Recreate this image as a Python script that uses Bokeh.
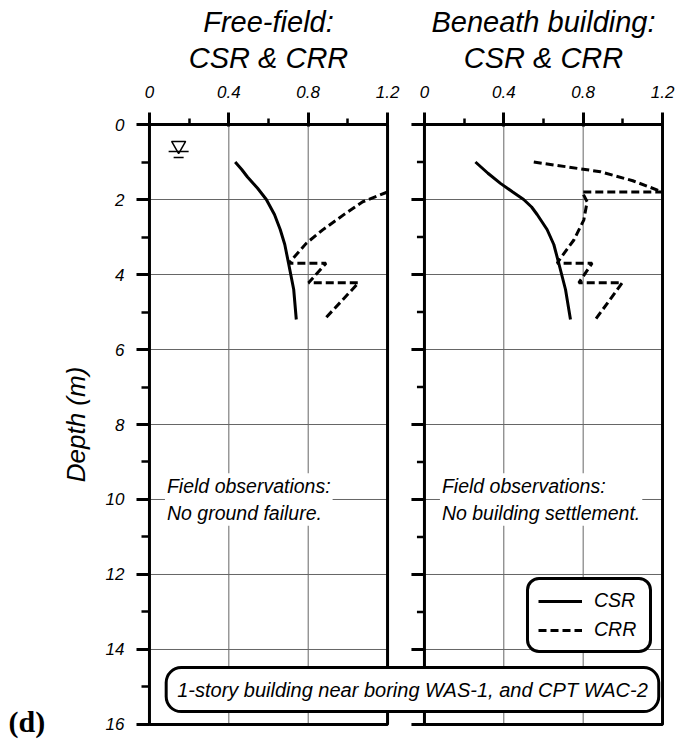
from bokeh.plotting import figure
from bokeh.layouts import row, column
from bokeh.models import Range1d, FixedTicker, Label, Legend, LegendItem
from bokeh.core.properties import value
from bokeh.embed import file_html
from bokeh.resources import INLINE

# ---------------- data ----------------
depth_ticks = [0, 2, 4, 6, 8, 10, 12, 14, 16]
depth_minor = [1, 3, 5, 7, 9, 11, 13, 15]
ratio_ticks = [0, 0.4, 0.8, 1.2]
ratio_minor = [0.2, 0.6, 1.0]
ratio_labels = ["0", "0.4", "0.8", "1.2"]
grid_ratio = [0.4, 0.8]
grid_depth = [2, 4, 6, 8, 10, 12, 14]

# Free-field
ff_csr_depth = [1.0, 1.2, 1.4, 1.7, 2.0, 2.4, 2.8, 3.2, 3.7, 4.4, 5.2]
ff_csr = [0.432, 0.465, 0.494, 0.545, 0.589, 0.630, 0.659, 0.682, 0.701, 0.727, 0.740]
ff_crr_depth = [1.8, 2.06, 2.41, 2.81, 3.17, 3.7, 3.7, 4.22, 4.22, 5.2]
ff_crr = [1.2, 1.075, 0.978, 0.873, 0.79, 0.702, 0.89, 0.802, 1.054, 0.881]

# Beneath building
bb_csr_depth = [1.0, 1.3, 1.57, 1.8, 2.0, 2.2, 2.4, 2.8, 3.2, 3.7, 4.4, 5.2]
bb_csr = [0.257, 0.320, 0.383, 0.445, 0.50, 0.540, 0.568, 0.618, 0.652, 0.677, 0.711, 0.736]
bb_crr_depth = [1.0, 1.26, 1.5, 1.8, 1.8, 2.06, 2.55, 3.08, 3.57, 3.7, 3.7, 4.22, 4.22, 5.2]
bb_crr = [0.551, 0.887, 1.05, 1.2, 0.795, 0.82, 0.803, 0.753, 0.685, 0.669, 0.845, 0.778, 0.997, 0.862]

water_table_depth = 0.72
water_table_x = 0.147

titles_left = ["Free-field:", "CSR & CRR"]
titles_right = ["Beneath building:", "CSR & CRR"]

# ---------------- layout constants ----------------
XMAX = 1.2
DMAX = 16
GAP = 0.186
PADX = 0.02
PADY = 0.1067
R0 = XMAX + GAP
FONT = "Liberation Sans"
LEFT_W = 50
TITLE_H = 72
BL, FW, BR = 95, 521, 13
BT, FH, BB = 48, 608, 14

xr = Range1d(-PADX, R0 + XMAX + PADX)
xr_right = Range1d(-PADX - R0, XMAX + PADX)

p = figure(frame_width=FW, frame_height=FH, x_range=xr,
           y_range=Range1d(DMAX + PADY, -PADY),
           x_axis_location="above", y_axis_location="left",
           output_backend="svg", toolbar_location=None,
           min_border_left=BL, min_border_right=BR,
           min_border_top=BT, min_border_bottom=BB)
p.extra_x_ranges = {"right": xr_right}
p.outline_line_color = None
p.background_fill_color = "white"
p.border_fill_color = "white"
p.xgrid.visible = False
p.ygrid.visible = False

# ---- axes ----
top_ticks = [round(t, 4) for t in ratio_ticks] + [round(t + R0, 4) for t in ratio_ticks]
top_minor = [round(t, 4) for t in ratio_minor] + [round(t + R0, 4) for t in ratio_minor]
top_labels = ratio_labels + ratio_labels
xa = p.xaxis[0]
xa.ticker = FixedTicker(ticks=top_ticks, minor_ticks=top_minor)
xa.major_label_overrides = {t: l for t, l in zip(top_ticks, top_labels)}
xa.major_tick_out = 8
xa.major_tick_in = 6
xa.minor_tick_out = 2
xa.minor_tick_in = 4

ya = p.yaxis[0]
ya.ticker = FixedTicker(ticks=depth_ticks, minor_ticks=depth_minor)
ya.major_tick_out = 9
ya.major_tick_in = 4
ya.minor_tick_out = 4
ya.minor_tick_in = 4
ya.axis_label = "Depth (m)"
ya.axis_label_text_font = FONT
ya.axis_label_text_font_style = "italic"
ya.axis_label_text_font_size = "26px"
ya.axis_label_text_color = "black"
ya.axis_label_standoff = 12

for ax in (xa, ya):
    ax.axis_line_color = None
    ax.major_tick_line_color = "black"
    ax.minor_tick_line_color = "black"
    ax.major_tick_line_width = 3
    ax.minor_tick_line_width = 2.5
    ax.major_label_text_font = FONT
    ax.major_label_text_font_style = "italic"
    ax.major_label_text_font_size = "17px"
    ax.major_label_text_color = "black"
xa.major_label_standoff = 15
ya.major_label_standoff = 12

# ---- panels: grid + borders ----
TICK_MAJ = 13 / 198.4
TICK_MIN = 7.5 / 198.4
for rng in ("default", "right"):
    p.segment(x0=grid_ratio, y0=[0] * len(grid_ratio), x1=grid_ratio, y1=[DMAX] * len(grid_ratio),
              line_color="#666666", line_width=1, x_range_name=rng)
    p.segment(x0=[0] * len(grid_depth), y0=grid_depth, x1=[XMAX] * len(grid_depth), y1=grid_depth,
              line_color="#666666", line_width=1, x_range_name=rng)
    p.quad(left=[0], right=[XMAX], top=[0], bottom=[DMAX], fill_color=None,
           line_color="black", line_width=3, x_range_name=rng)

# left-side ticks of the right panel
p.segment(x0=[-TICK_MAJ] * len(depth_ticks), y0=depth_ticks, x1=[0] * len(depth_ticks), y1=depth_ticks,
          line_color="black", line_width=3, x_range_name="right")
p.segment(x0=[-TICK_MIN] * len(depth_minor), y0=depth_minor, x1=[0] * len(depth_minor), y1=depth_minor,
          line_color="black", line_width=2.5, x_range_name="right")

# ---- data curves ----
csr_l = p.line(ff_csr, ff_csr_depth, line_color="black", line_width=3)
crr_l = p.line(ff_crr, ff_crr_depth, line_color="black", line_width=3, line_dash="8 4")
p.line(bb_csr, bb_csr_depth, line_color="black", line_width=3, x_range_name="right")
p.line(bb_crr, bb_crr_depth, line_color="black", line_width=3, line_dash="8 4", x_range_name="right")

# water table symbol
p.scatter([water_table_x], [water_table_depth - 0.16], marker="inverted_triangle", size=14,
          fill_color="white", line_color="black", line_width=1.5)
p.scatter([water_table_x], [water_table_depth], marker="dash", size=20, line_color="black", line_width=1.5)
p.scatter([water_table_x], [water_table_depth + 0.16], marker="dash", size=10, line_color="black", line_width=1.5)

# ---- in-plot text ----
def lab(x, y, text, size, rng="default", align="left", baseline="middle", **kw):
    l = Label(x=x, y=y, text=text, text_align=align, text_baseline=baseline,
              text_font=FONT, text_font_style="italic",
              text_font_size=size, text_color="black", x_range_name=rng, **kw)
    p.add_layout(l)
    return l

fo1 = lab(0.078, 10.0, "Field observations:\nNo ground failure.", "19.5px",
          background_fill_color="white")
fo2 = lab(0.078, 10.0, "Field observations:\nNo building settlement.", "19.5px", rng="right",
          background_fill_color="white")
box = lab(1.3256, 15.07, "1-story building near boring WAS-1, and CPT WAC-2", "20px",
          align="center", background_fill_color="white", border_line_color="black",
          border_line_width=3)
for l, pad, rad in ((fo1, 2, 0), (fo2, 2, 0), (box, 11, 15)):
    try:
        l.padding = pad
        if rad:
            l.border_radius = rad
    except AttributeError:
        pass

# ---- legend ----
legend = Legend(items=[LegendItem(label="CSR", renderers=[csr_l]),
                       LegendItem(label="CRR", renderers=[crr_l])],
                location=(381, 75), padding=9, spacing=6, margin=0,
                label_standoff=12, glyph_width=44, glyph_height=20,
                label_height=20, label_width=46,
                border_line_color="black", border_line_width=3, border_line_alpha=1.0,
                background_fill_color="white", background_fill_alpha=1.0,
                label_text_font=FONT, label_text_font_style="italic",
                label_text_font_size="19.5px", label_text_color="black")
try:
    legend.border_radius = 13
except AttributeError:
    pass
p.add_layout(legend)

# ---- title strip (panel headings) ----
t = figure(frame_width=FW, frame_height=TITLE_H, x_range=xr, y_range=Range1d(TITLE_H, 0),
           x_axis_location=None, y_axis_location=None, output_backend="svg",
           toolbar_location=None, min_border_left=BL, min_border_right=BR,
           min_border_top=0, min_border_bottom=0)
t.extra_x_ranges = {"right": xr_right}
t.outline_line_color = None
t.grid.visible = False
title_y = [21, 57]
for rng, lines in (("default", titles_left), ("right", titles_right)):
    t.text(x=[XMAX / 2] * 2, y=title_y, text=lines, x_range_name=rng,
           text_align="center", text_baseline="middle",
           text_font=value(FONT), text_font_style="italic", text_font_size="29px",
           text_color="black")

# ---- left strip with panel letter ----
d = figure(width=LEFT_W, height=TITLE_H + BT + FH + BB, x_range=Range1d(0, LEFT_W),
           y_range=Range1d(TITLE_H + BT + FH + BB, 0),
           x_axis_location=None, y_axis_location=None, output_backend="svg",
           toolbar_location=None, min_border=0)
d.outline_line_color = None
d.grid.visible = False
d.text(x=[8], y=[721], text=["(d)"], text_align="left", text_baseline="middle",
       text_font=value("Liberation Serif"), text_font_style="bold", text_font_size="30px",
       text_color="black")

layout = row(d, column(t, p))
open("out.html", "w").write(file_html(layout, INLINE))
